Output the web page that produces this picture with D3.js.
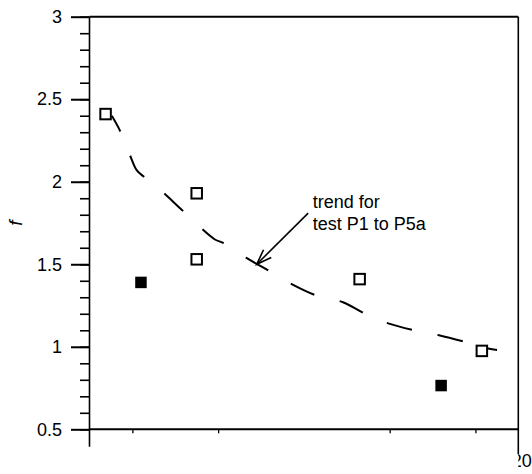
<!DOCTYPE html>
<html>
<head>
<meta charset="utf-8">
<script src="https://cdn.jsdelivr.net/npm/d3@7"></script>
<style>
  html, body { margin: 0; padding: 0; background: #fff; }
  svg { display: block; }
  text { font-family: "Liberation Sans", Arial, Helvetica, sans-serif; fill: #000; }
</style>
</head>
<body>
<svg id="chart" width="532" height="474"></svg>
<script>
// Open symbols: tests P1 to P5a
const openX = [0.75, 5.0, 5.0, 12.6, 18.3];
const openF = [2.41, 1.93, 1.53, 1.41, 0.975];
// Filled symbols
const filledX = [2.4, 16.4];
const filledF = [1.39, 0.765];
// Trend curve through tests P1 to P5a
const trendX = [1.04, 1.42, 1.89, 2.2, 2.54, 3.48, 4.3, 5.85, 6.23, 7.3, 8.37, 9.43, 10.6, 11.82, 12.85, 13.97, 15.14, 16.3, 17.51, 18.59, 19.01];
const trendF = [2.40, 2.31, 2.16, 2.07, 2.03, 1.93, 1.83, 1.65, 1.63, 1.54, 1.46, 1.38, 1.31, 1.27, 1.20, 1.14, 1.10, 1.07, 1.03, 0.99, 0.98];
// Axis ticks and labels
const yMajorTicks = [0.5, 1, 1.5, 2, 2.5, 3];
const yMinorTicks = d3.range(5, 31).map(d => d / 10);
const xMinorTicks = [2, 6, 14, 18];
const xEndTick = 20;
const xEndLabel = "20";
const yTitle = "f";
// Annotation
const noteLines = ["trend for", "test P1 to P5a"];
const arrowFrom = [10.2, 1.81];
const arrowTo = [7.8, 1.5];

const svg = d3.select("#chart");
const L = 89.5, R = 518.3, T = 16.7, B = 429.3;
const x = d3.scaleLinear().domain([0, 20]).range([L, R]);
const y = d3.scaleLinear().domain([0.5, 3]).range([B, T]);
const fmt = d => String(d);

// minor y ticks
svg.append("g")
  .attr("transform", `translate(${L},0)`)
  .call(d3.axisLeft(y).tickValues(yMinorTicks).tickSize(9.5).tickSizeOuter(0).tickFormat(""))
  .call(g => g.select(".domain").remove())
  .call(g => g.selectAll("line").attr("stroke", "#000").attr("stroke-width", 1.6));

// major y ticks with labels
svg.append("g")
  .attr("transform", `translate(${L},0)`)
  .call(d3.axisLeft(y).tickValues(yMajorTicks).tickSize(18.5).tickPadding(9).tickSizeOuter(0).tickFormat(fmt))
  .call(g => g.select(".domain").remove())
  .call(g => g.selectAll("line").attr("stroke", "#000").attr("stroke-width", 2))
  .call(g => g.selectAll("text").attr("font-size", 18).attr("fill", "#000")
    .style("font-family", "'Liberation Sans', Arial, sans-serif"));

// small x ticks below the bottom axis
svg.append("g")
  .attr("transform", `translate(0,${B})`)
  .call(d3.axisBottom(x).tickValues(xMinorTicks).tickSize(4).tickSizeOuter(0).tickFormat(""))
  .call(g => g.select(".domain").remove())
  .call(g => g.selectAll("line").attr("stroke", "#000").attr("stroke-width", 1.3));

// frame
const frame = svg.append("g").attr("stroke", "#000").attr("stroke-width", 2).attr("fill", "none");
frame.append("line").attr("x1", x(0)).attr("x2", x(20)).attr("y1", y(3)).attr("y2", y(3));
frame.append("line").attr("x1", x(0)).attr("x2", x(20)).attr("y1", y(0.5)).attr("y2", y(0.5));
frame.append("line").attr("x1", x(0)).attr("x2", x(0)).attr("y1", y(3)).attr("y2", y(0.5) + 17.5).attr("stroke-width", 1.6);
frame.append("line").attr("x1", x(20)).attr("x2", x(20)).attr("y1", y(3)).attr("y2", y(0.5) + 25).attr("stroke-width", 1.6);

// end label of the x axis, trimmed by the page edge
svg.append("clipPath").attr("id", "edge")
  .append("rect").attr("x", x(xEndTick)).attr("y", 440).attr("width", 14).attr("height", 34);
svg.append("text")
  .attr("clip-path", "url(#edge)")
  .attr("x", x(xEndTick) + 3.5).attr("y", 467)
  .attr("text-anchor", "middle").attr("font-size", 18)
  .text(xEndLabel);

// y title
svg.append("text")
  .attr("transform", `translate(22,${(T + B) / 2}) rotate(-90)`)
  .attr("text-anchor", "middle")
  .attr("font-size", 19).attr("font-style", "italic")
  .text(yTitle);

// trend curve
const trend = trendX.map((d, i) => [d, trendF[i]]);
svg.append("path")
  .datum(trend)
  .attr("d", d3.line().x(d => x(d[0])).y(d => y(d[1])).curve(d3.curveCatmullRom.alpha(0.5)))
  .attr("fill", "none").attr("stroke", "#000").attr("stroke-width", 2)
  .attr("stroke-dasharray", "26 26.1").attr("stroke-dashoffset", 8);

// open squares
const so = 10.5;
svg.append("g").selectAll("rect")
  .data(openX.map((d, i) => [d, openF[i]]))
  .join("rect")
  .attr("x", d => x(d[0]) - so / 2).attr("y", d => y(d[1]) - so / 2)
  .attr("width", so).attr("height", so)
  .attr("fill", "#fff").attr("stroke", "#000").attr("stroke-width", 2);

// filled squares
const sf = 11.5;
svg.append("g").selectAll("rect")
  .data(filledX.map((d, i) => [d, filledF[i]]))
  .join("rect")
  .attr("x", d => x(d[0]) - sf / 2).attr("y", d => y(d[1]) - sf / 2)
  .attr("width", sf).attr("height", sf)
  .attr("fill", "#000");

// annotation arrow
const ax1 = x(arrowFrom[0]), ay1 = y(arrowFrom[1]);
const ax2 = x(arrowTo[0]), ay2 = y(arrowTo[1]);
const ang = Math.atan2(ay1 - ay2, ax1 - ax2);
const hl = 16, ha = 20 * Math.PI / 180;
const arrow = svg.append("g").attr("stroke", "#000").attr("stroke-width", 1.6).attr("fill", "none");
arrow.append("line").attr("x1", ax1).attr("y1", ay1).attr("x2", ax2).attr("y2", ay2);
arrow.append("path")
  .attr("d", d3.line()([
    [ax2 + hl * Math.cos(ang - ha), ay2 + hl * Math.sin(ang - ha)],
    [ax2, ay2],
    [ax2 + hl * Math.cos(ang + ha), ay2 + hl * Math.sin(ang + ha)]
  ]));

// annotation text
svg.append("g").selectAll("text")
  .data(noteLines)
  .join("text")
  .attr("x", ax1 + 4.5)
  .attr("y", (d, i) => ay1 - 5 + i * 21.5)
  .attr("font-size", 18)
  .text(d => d);
</script>
</body>
</html>
